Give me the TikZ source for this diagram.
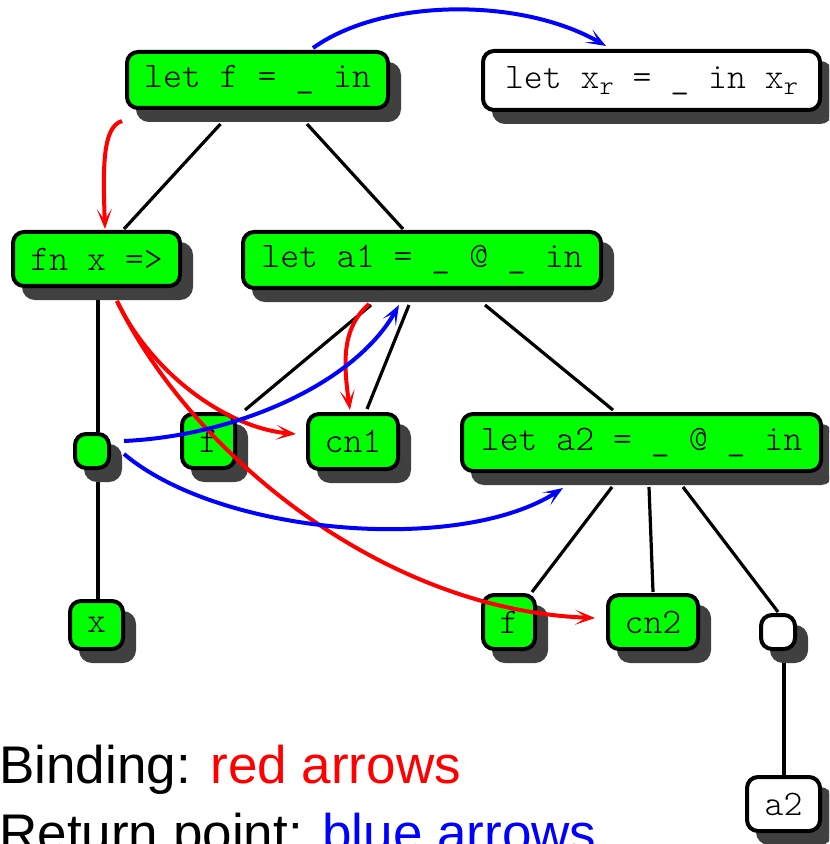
\documentclass[tikz,border=0pt]{standalone}
\usepackage{fontspec}
\newfontfamily\legendfont{Liberation Sans}
\newfontfamily\codefont{Latin Modern Mono Light}
\usetikzlibrary{shadows,arrows.meta,calc}
\definecolor{nodegreen}{RGB}{0,255,0}
\definecolor{shadowgray}{RGB}{64,64,64}
\definecolor{bindred}{RGB}{255,0,0}
\definecolor{retblue}{RGB}{0,0,255}
\pgfdeclarelayer{background}
\pgfsetlayers{background,main}

\tikzset{
  box/.style={draw=black, line width=2pt, rounded corners=5.5pt, inner sep=0pt,
    outer sep=1pt, align=center,
    font=\codefont\fontsize{18pt}{20pt}\selectfont,
    drop shadow={shadow xshift=5.5pt, shadow yshift=-6pt, fill=shadowgray,
      draw=shadowgray, opacity=1}},
  gbox/.style={box, fill=nodegreen},
  wbox/.style={box, fill=white},
  sz/.style 2 args={minimum width=#1*0.5pt-2pt, minimum height=#2*0.5pt-2pt},
  treeedge/.style={draw=black, line width=1.6pt},
  bindarrow/.style={draw=bindred, line width=2pt,
    -{Stealth[length=10pt, width=7.5pt, inset=5.5pt]}},
  retarrow/.style={draw=retblue, line width=2pt,
    -{Stealth[length=10pt, width=7.5pt, inset=5.5pt]}},
  legend/.style={anchor=base west, inner sep=0pt,
    font=\legendfont\fontsize{26.5pt}{30pt}\selectfont}
}
\newcommand{\subr}{\raisebox{-3pt}{\fontsize{13.5pt}{14pt}\selectfont r}}

\begin{document}
\begin{tikzpicture}[x=0.5pt, y=-0.5pt]
\useasboundingbox (0,0) rectangle (829,844);
\clip (0,0) rectangle (829,844);

% syntax tree nodes
\node[gbox, sz={265}{60}] (letf)   at (257.5,80)  {let f = \_ in};
\node[wbox, sz={341}{63}] (xr)     at (651.5,80.5) {let x\subr{} = \_ in x\subr};
\node[gbox, sz={171}{58}] (fnx)    at (96.5,259)  {fn x =>};
\node[gbox, sz={362}{60}] (a1)     at (422,260)   {let a1 = \_ @ \_ in};
\node[gbox, sz={38}{38}]  (sq)     at (92,451)    {};
\node[gbox, sz={57}{58}]  (f1)     at (208.5,441) {f};
\node[gbox, sz={94}{59}]  (cn1)    at (353,441.5) {cn1};
\node[gbox, sz={363}{61}] (a2)     at (641.5,442.5) {let a2 = \_ @ \_ in};
\node[gbox, sz={57}{52}]  (xleaf)  at (96.5,625)  {x};
\node[gbox, sz={56}{58}]  (f2)     at (509,622)   {f};
\node[gbox, sz={94}{58}]  (cn2)    at (653,622)   {cn2};
\node[wbox, sz={38}{38}]  (wsq)    at (778,632)   {};
\node[wbox, sz={77}{58}]  (a2leaf) at (783.5,804) {a2};

% tree edges, kept behind the boxes
\begin{pgfonlayer}{background}
\draw[treeedge] ($(letf.south)+(-37,14)$) -- ($(fnx.north)+(27.5,-1)$);
\draw[treeedge] ($(letf.south)+(49.5,14)$) -- ($(a1.north)+(-19,-1)$);
\draw[treeedge] ($(fnx.south)+(1.5,5)$) -- ($(sq.north)+(6,0)$);
\draw[treeedge] ($(sq.south)+(6,5)$) -- ($(xleaf.north)+(1.5,0)$);
\draw[treeedge] ($(a1.south)+(-51,15)$) -- ($(f1.north)+(36.5,-2)$);
\draw[treeedge] ($(a1.south)+(-13,15)$) -- ($(cn1.north)+(14,-3)$);
\draw[treeedge] ($(a1.south)+(63,15)$) -- ($(a2.north)+(-28.5,-2)$);
\draw[treeedge] ($(a2.south)+(-29.5,14)$) -- ($(f2.north)+(23,-1)$);
\draw[treeedge] ($(a2.south)+(7.5,14)$) -- ($(cn2.north)+(0,-1)$);
\draw[treeedge] ($(a2.south)+(41.5,14)$) -- ($(wsq.north)+(0,-1)$);
\draw[treeedge] ($(wsq.south)+(6,5)$) -- ($(a2leaf.north)+(0.5,0)$);
\end{pgfonlayer}

% binding arrows
\draw[bindarrow] ($(letf.south)+(-135.5,11)$)
  .. controls +(-20,6) and +(-2,-60) .. ($(fnx.north)+(8.5,-1)$);
\draw[bindarrow] ($(fnx.south)+(20.5,13)$)
  .. controls +(33,70) and +(-71,-6) .. ($(cn1.west)+(-10,-7.5)$);
\draw[bindarrow] ($(fnx.south)+(20.5,13)$)
  .. controls +(73,150) and +(-215,-8) .. ($(cn2.west)+(-11,-4)$);
\draw[bindarrow] ($(a1.south)+(-53,14)$)
  .. controls +(-27,24) and +(-7,-49) .. ($(cn1.north)+(-3,-2)$);

% return-point arrows
\draw[retarrow] ($(letf.north)+(55.5,-2)$)
  .. controls +(70,-50) and +(-85,-49) .. ($(xr.north)+(-45.5,-3)$);
\draw[retarrow] ($(sq.east)+(13,-10)$)
  .. controls +(110,-5) and +(-45,80) .. ($(a1.south)+(-23,15)$);
\draw[retarrow] ($(sq.east)+(13,3)$)
  .. controls +(96,81) and +(-103,67) .. ($(a2.south)+(-78.5,15)$);

% legend
\node[legend] (bindlabel) at (-1,783) {Binding: \textcolor{bindred}{red arrows}};
\node[legend] (retlabel) at (-1,851) {Return point: \textcolor{retblue}{blue arrows}};
\end{tikzpicture}
\end{document}
